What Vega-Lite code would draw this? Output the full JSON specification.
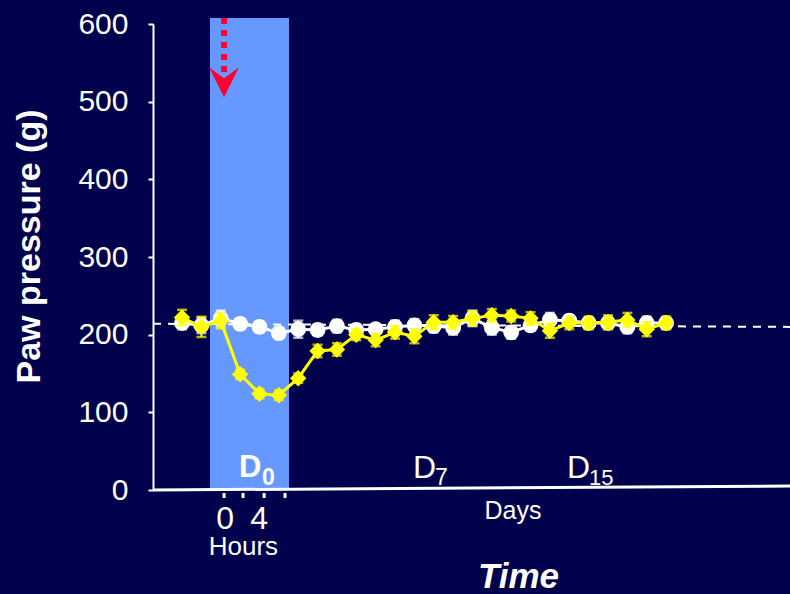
{
  "$schema": "https://vega.github.io/schema/vega-lite/v6.json",
  "width": 637,
  "height": 466,
  "autosize": {"type": "none"},
  "padding": {"left": 153, "top": 24, "right": 0, "bottom": 104},
  "background": "#00004C",
  "config": {
    "view": {"stroke": null},
    "font": "Liberation Sans",
    "axisY": {
      "titleFont": "Liberation Sans",
      "titleFontSize": 34,
      "titleFontWeight": "bold",
      "titleColor": "white",
      "titleAngle": 270,
      "titleBaseline": "bottom",
      "titleAlign": "center",
      "titleX": -107,
      "titleY": 222,
      "labelFont": "Liberation Sans",
      "labelFontSize": 30,
      "labelColor": "white",
      "labelPadding": 20,
      "labelFlush": false,
      "labelOverlap": false,
      "tickSize": 5,
      "tickWidth": 2,
      "tickColor": "white",
      "domainColor": "white",
      "domainWidth": 2,
      "grid": false
    }
  },
  "datasets": {
    "pressure": [
      {"t": 0, "g": "control", "mean": 215, "sem": 8},
      {"t": 1, "g": "control", "mean": 212, "sem": 10},
      {"t": 2, "g": "control", "mean": 221, "sem": 10},
      {"t": 3, "g": "control", "mean": 214, "sem": 7},
      {"t": 4, "g": "control", "mean": 210, "sem": 7},
      {"t": 5, "g": "control", "mean": 202, "sem": 7},
      {"t": 6, "g": "control", "mean": 207, "sem": 11},
      {"t": 7, "g": "control", "mean": 206, "sem": 7},
      {"t": 8, "g": "control", "mean": 211, "sem": 8},
      {"t": 9, "g": "control", "mean": 206, "sem": 7},
      {"t": 10, "g": "control", "mean": 207, "sem": 6},
      {"t": 11, "g": "control", "mean": 210, "sem": 8},
      {"t": 12, "g": "control", "mean": 212, "sem": 8},
      {"t": 13, "g": "control", "mean": 211, "sem": 8},
      {"t": 14, "g": "control", "mean": 209, "sem": 9},
      {"t": 15, "g": "control", "mean": 221, "sem": 10},
      {"t": 16, "g": "control", "mean": 209, "sem": 9},
      {"t": 17, "g": "control", "mean": 203, "sem": 8},
      {"t": 18, "g": "control", "mean": 212, "sem": 7},
      {"t": 19, "g": "control", "mean": 219, "sem": 9},
      {"t": 20, "g": "control", "mean": 218, "sem": 7},
      {"t": 21, "g": "control", "mean": 215, "sem": 7},
      {"t": 22, "g": "control", "mean": 215, "sem": 7},
      {"t": 23, "g": "control", "mean": 210, "sem": 8},
      {"t": 24, "g": "control", "mean": 215, "sem": 8},
      {"t": 25, "g": "control", "mean": 215, "sem": 7},
      {"t": 0, "g": "treated", "mean": 222, "sem": 10},
      {"t": 1, "g": "treated", "mean": 210, "sem": 13},
      {"t": 2, "g": "treated", "mean": 218, "sem": 10},
      {"t": 3, "g": "treated", "mean": 149, "sem": 6},
      {"t": 4, "g": "treated", "mean": 124, "sem": 6},
      {"t": 5, "g": "treated", "mean": 122, "sem": 6},
      {"t": 6, "g": "treated", "mean": 144, "sem": 6},
      {"t": 7, "g": "treated", "mean": 179, "sem": 8},
      {"t": 8, "g": "treated", "mean": 181, "sem": 8},
      {"t": 9, "g": "treated", "mean": 200, "sem": 7},
      {"t": 10, "g": "treated", "mean": 193, "sem": 8},
      {"t": 11, "g": "treated", "mean": 203, "sem": 8},
      {"t": 12, "g": "treated", "mean": 198, "sem": 9},
      {"t": 13, "g": "treated", "mean": 216, "sem": 9},
      {"t": 14, "g": "treated", "mean": 216, "sem": 8},
      {"t": 15, "g": "treated", "mean": 221, "sem": 9},
      {"t": 16, "g": "treated", "mean": 225, "sem": 8},
      {"t": 17, "g": "treated", "mean": 224, "sem": 7},
      {"t": 18, "g": "treated", "mean": 221, "sem": 8},
      {"t": 19, "g": "treated", "mean": 205, "sem": 9},
      {"t": 20, "g": "treated", "mean": 215, "sem": 8},
      {"t": 21, "g": "treated", "mean": 215, "sem": 8},
      {"t": 22, "g": "treated", "mean": 216, "sem": 9},
      {"t": 23, "g": "treated", "mean": 219, "sem": 9},
      {"t": 24, "g": "treated", "mean": 207, "sem": 9},
      {"t": 25, "g": "treated", "mean": 215, "sem": 8}
    ],
    "hourTicks": [
      {"pos": 2.17}, {"pos": 3.15}, {"pos": 4.24}, {"pos": 5.32}
    ],
    "one": [{}]
  },
  "layer": [
    {
      "data": {"name": "one"},
      "mark": {"type": "rect", "color": "#6699FF"},
      "encoding": {
        "x": {"datum": 1.444, "type": "quantitative", "scale": {"domain": [-1.5, 31.4], "nice": false, "zero": false}, "axis": null},
        "x2": {"datum": 5.524},
        "y": {"datum": 0, "type": "quantitative", "scale": {"domain": [0, 600], "nice": false, "zero": false}, "axis": {"values": [0, 100, 200, 300, 400, 500, 600], "title": "Paw pressure (g)"}},
        "y2": {"datum": 607.7}
      }
    },
    {
      "data": {"name": "one"},
      "mark": {"type": "rule", "color": "#FF0033", "strokeWidth": 6, "strokeDash": [6, 6], "strokeCap": "butt"},
      "encoding": {
        "x": {"datum": 2.17, "type": "quantitative", "scale": {"domain": [-1.5, 31.4], "nice": false, "zero": false}, "axis": null},
        "y": {"datum": 607.7, "type": "quantitative", "scale": {"domain": [0, 600], "nice": false, "zero": false}, "axis": {"values": [0, 100, 200, 300, 400, 500, 600], "title": "Paw pressure (g)"}},
        "y2": {"datum": 537}
      }
    },
    {
      "data": {"name": "one"},
      "mark": {"type": "point", "filled": true, "opacity": 1, "color": "#FF0033", "size": 900, "shape": "M-1,-1L0,-0.27L1,-1L0,1Z"},
      "encoding": {
        "x": {"datum": 2.17, "type": "quantitative", "scale": {"domain": [-1.5, 31.4], "nice": false, "zero": false}, "axis": null},
        "y": {"datum": 525, "type": "quantitative", "scale": {"domain": [0, 600], "nice": false, "zero": false}, "axis": {"values": [0, 100, 200, 300, 400, 500, 600], "title": "Paw pressure (g)"}}
      }
    },
    {
      "data": {"name": "one"},
      "mark": {"type": "rule", "color": "white", "strokeWidth": 2, "strokeDash": [8, 7]},
      "encoding": {
        "x": {"datum": -1.5, "type": "quantitative", "scale": {"domain": [-1.5, 31.4], "nice": false, "zero": false}, "axis": null},
        "x2": {"datum": 31.4},
        "y": {"datum": 214, "type": "quantitative", "scale": {"domain": [0, 600], "nice": false, "zero": false}, "axis": {"values": [0, 100, 200, 300, 400, 500, 600], "title": "Paw pressure (g)"}},
        "y2": {"datum": 210}
      }
    },
    {
      "data": {"name": "one"},
      "mark": {"type": "rule", "color": "white", "strokeWidth": 3},
      "encoding": {
        "x": {"datum": -1.5, "type": "quantitative", "scale": {"domain": [-1.5, 31.4], "nice": false, "zero": false}, "axis": null},
        "x2": {"datum": 31.4},
        "y": {"datum": 0, "type": "quantitative", "scale": {"domain": [0, 600], "nice": false, "zero": false}, "axis": {"values": [0, 100, 200, 300, 400, 500, 600], "title": "Paw pressure (g)"}},
        "y2": {"datum": 5}
      }
    },
    {
      "data": {"name": "hourTicks"},
      "mark": {"type": "rule", "color": "white", "strokeWidth": 3},
      "encoding": {
        "x": {"field": "pos", "type": "quantitative", "scale": {"domain": [-1.5, 31.4], "nice": false, "zero": false}, "axis": null},
        "y": {"datum": -3.9, "type": "quantitative", "scale": {"domain": [0, 600], "nice": false, "zero": false}, "axis": {"values": [0, 100, 200, 300, 400, 500, 600], "title": "Paw pressure (g)"}},
        "y2": {"datum": -10.3}
      }
    },
    {
      "data": {"name": "pressure"},
      "transform": [{"filter": "datum.g === 'control'"}],
      "mark": {"type": "errorbar", "color": "white", "rule": {"strokeWidth": 2}, "ticks": {"size": 10, "thickness": 2.5}},
      "encoding": {
        "x": {"field": "t", "type": "quantitative", "scale": {"domain": [-1.5, 31.4], "nice": false, "zero": false}, "axis": null},
        "y": {"field": "mean", "type": "quantitative", "scale": {"domain": [0, 600], "nice": false, "zero": false}, "axis": {"values": [0, 100, 200, 300, 400, 500, 600], "title": "Paw pressure (g)"}},
        "yError": {"field": "sem"}
      }
    },
    {
      "data": {"name": "pressure"},
      "transform": [{"filter": "datum.g === 'control'"}],
      "mark": {"type": "line", "color": "white", "strokeWidth": 3},
      "encoding": {
        "x": {"field": "t", "type": "quantitative", "scale": {"domain": [-1.5, 31.4], "nice": false, "zero": false}, "axis": null},
        "y": {"field": "mean", "type": "quantitative", "scale": {"domain": [0, 600], "nice": false, "zero": false}, "axis": {"values": [0, 100, 200, 300, 400, 500, 600], "title": "Paw pressure (g)"}}
      }
    },
    {
      "data": {"name": "pressure"},
      "transform": [{"filter": "datum.g === 'control'"}],
      "mark": {"type": "point", "shape": "circle", "filled": true, "opacity": 1, "color": "white", "size": 250},
      "encoding": {
        "x": {"field": "t", "type": "quantitative", "scale": {"domain": [-1.5, 31.4], "nice": false, "zero": false}, "axis": null},
        "y": {"field": "mean", "type": "quantitative", "scale": {"domain": [0, 600], "nice": false, "zero": false}, "axis": {"values": [0, 100, 200, 300, 400, 500, 600], "title": "Paw pressure (g)"}}
      }
    },
    {
      "data": {"name": "pressure"},
      "transform": [{"filter": "datum.g === 'treated'"}],
      "mark": {"type": "errorbar", "color": "#FFFF00", "rule": {"strokeWidth": 2}, "ticks": {"size": 10, "thickness": 2.5}},
      "encoding": {
        "x": {"field": "t", "type": "quantitative", "scale": {"domain": [-1.5, 31.4], "nice": false, "zero": false}, "axis": null},
        "y": {"field": "mean", "type": "quantitative", "scale": {"domain": [0, 600], "nice": false, "zero": false}, "axis": {"values": [0, 100, 200, 300, 400, 500, 600], "title": "Paw pressure (g)"}},
        "yError": {"field": "sem"}
      }
    },
    {
      "data": {"name": "pressure"},
      "transform": [{"filter": "datum.g === 'treated'"}],
      "mark": {"type": "line", "color": "#FFFF00", "strokeWidth": 3},
      "encoding": {
        "x": {"field": "t", "type": "quantitative", "scale": {"domain": [-1.5, 31.4], "nice": false, "zero": false}, "axis": null},
        "y": {"field": "mean", "type": "quantitative", "scale": {"domain": [0, 600], "nice": false, "zero": false}, "axis": {"values": [0, 100, 200, 300, 400, 500, 600], "title": "Paw pressure (g)"}}
      }
    },
    {
      "data": {"name": "pressure"},
      "transform": [{"filter": "datum.g === 'treated'"}],
      "mark": {"type": "point", "shape": "diamond", "filled": true, "opacity": 1, "color": "#FFFF00", "size": 270},
      "encoding": {
        "x": {"field": "t", "type": "quantitative", "scale": {"domain": [-1.5, 31.4], "nice": false, "zero": false}, "axis": null},
        "y": {"field": "mean", "type": "quantitative", "scale": {"domain": [0, 600], "nice": false, "zero": false}, "axis": {"values": [0, 100, 200, 300, 400, 500, 600], "title": "Paw pressure (g)"}}
      }
    },
    {
      "data": {"name": "one"},
      "mark": {"type": "text", "text": "D", "color": "white", "fontSize": 31, "fontWeight": "bold", "align": "left", "baseline": "alphabetic"},
      "encoding": {
        "x": {"datum": 2.94, "type": "quantitative", "scale": {"domain": [-1.5, 31.4], "nice": false, "zero": false}, "axis": null},
        "y": {"datum": 16.7, "type": "quantitative", "scale": {"domain": [0, 600], "nice": false, "zero": false}, "axis": {"values": [0, 100, 200, 300, 400, 500, 600], "title": "Paw pressure (g)"}}
      }
    },
    {
      "data": {"name": "one"},
      "mark": {"type": "text", "text": "0", "color": "white", "fontSize": 23, "fontWeight": "bold", "align": "left", "baseline": "alphabetic"},
      "encoding": {
        "x": {"datum": 4.13, "type": "quantitative", "scale": {"domain": [-1.5, 31.4], "nice": false, "zero": false}, "axis": null},
        "y": {"datum": 6.4, "type": "quantitative", "scale": {"domain": [0, 600], "nice": false, "zero": false}, "axis": {"values": [0, 100, 200, 300, 400, 500, 600], "title": "Paw pressure (g)"}}
      }
    },
    {
      "data": {"name": "one"},
      "mark": {"type": "text", "text": "D", "color": "white", "fontSize": 32, "align": "left", "baseline": "alphabetic"},
      "encoding": {
        "x": {"datum": 11.93, "type": "quantitative", "scale": {"domain": [-1.5, 31.4], "nice": false, "zero": false}, "axis": null},
        "y": {"datum": 15.5, "type": "quantitative", "scale": {"domain": [0, 600], "nice": false, "zero": false}, "axis": {"values": [0, 100, 200, 300, 400, 500, 600], "title": "Paw pressure (g)"}}
      }
    },
    {
      "data": {"name": "one"},
      "mark": {"type": "text", "text": "7", "color": "white", "fontSize": 23, "align": "left", "baseline": "alphabetic"},
      "encoding": {
        "x": {"datum": 13.06, "type": "quantitative", "scale": {"domain": [-1.5, 31.4], "nice": false, "zero": false}, "axis": null},
        "y": {"datum": 6.4, "type": "quantitative", "scale": {"domain": [0, 600], "nice": false, "zero": false}, "axis": {"values": [0, 100, 200, 300, 400, 500, 600], "title": "Paw pressure (g)"}}
      }
    },
    {
      "data": {"name": "one"},
      "mark": {"type": "text", "text": "D", "color": "white", "fontSize": 32, "align": "left", "baseline": "alphabetic"},
      "encoding": {
        "x": {"datum": 19.88, "type": "quantitative", "scale": {"domain": [-1.5, 31.4], "nice": false, "zero": false}, "axis": null},
        "y": {"datum": 15.5, "type": "quantitative", "scale": {"domain": [0, 600], "nice": false, "zero": false}, "axis": {"values": [0, 100, 200, 300, 400, 500, 600], "title": "Paw pressure (g)"}}
      }
    },
    {
      "data": {"name": "one"},
      "mark": {"type": "text", "text": "15", "color": "white", "fontSize": 22, "align": "left", "baseline": "alphabetic"},
      "encoding": {
        "x": {"datum": 21.02, "type": "quantitative", "scale": {"domain": [-1.5, 31.4], "nice": false, "zero": false}, "axis": null},
        "y": {"datum": 6.4, "type": "quantitative", "scale": {"domain": [0, 600], "nice": false, "zero": false}, "axis": {"values": [0, 100, 200, 300, 400, 500, 600], "title": "Paw pressure (g)"}}
      }
    },
    {
      "data": {"name": "one"},
      "mark": {"type": "text", "text": "Days", "color": "white", "fontSize": 25, "align": "center", "baseline": "alphabetic"},
      "encoding": {
        "x": {"datum": 17.09, "type": "quantitative", "scale": {"domain": [-1.5, 31.4], "nice": false, "zero": false}, "axis": null},
        "y": {"datum": -37.3, "type": "quantitative", "scale": {"domain": [0, 600], "nice": false, "zero": false}, "axis": {"values": [0, 100, 200, 300, 400, 500, 600], "title": "Paw pressure (g)"}}
      }
    },
    {
      "data": {"name": "one"},
      "mark": {"type": "text", "text": "0", "color": "white", "fontSize": 32, "align": "center", "baseline": "alphabetic"},
      "encoding": {
        "x": {"datum": 2.22, "type": "quantitative", "scale": {"domain": [-1.5, 31.4], "nice": false, "zero": false}, "axis": null},
        "y": {"datum": -50.2, "type": "quantitative", "scale": {"domain": [0, 600], "nice": false, "zero": false}, "axis": {"values": [0, 100, 200, 300, 400, 500, 600], "title": "Paw pressure (g)"}}
      }
    },
    {
      "data": {"name": "one"},
      "mark": {"type": "text", "text": "4", "color": "white", "fontSize": 32, "align": "center", "baseline": "alphabetic"},
      "encoding": {
        "x": {"datum": 3.98, "type": "quantitative", "scale": {"domain": [-1.5, 31.4], "nice": false, "zero": false}, "axis": null},
        "y": {"datum": -50.2, "type": "quantitative", "scale": {"domain": [0, 600], "nice": false, "zero": false}, "axis": {"values": [0, 100, 200, 300, 400, 500, 600], "title": "Paw pressure (g)"}}
      }
    },
    {
      "data": {"name": "one"},
      "mark": {"type": "text", "text": "Hours", "color": "white", "fontSize": 26, "align": "center", "baseline": "alphabetic"},
      "encoding": {
        "x": {"datum": 3.17, "type": "quantitative", "scale": {"domain": [-1.5, 31.4], "nice": false, "zero": false}, "axis": null},
        "y": {"datum": -83.7, "type": "quantitative", "scale": {"domain": [0, 600], "nice": false, "zero": false}, "axis": {"values": [0, 100, 200, 300, 400, 500, 600], "title": "Paw pressure (g)"}}
      }
    },
    {
      "data": {"name": "one"},
      "mark": {"type": "text", "text": "Time", "color": "white", "fontSize": 35, "fontWeight": "bold", "fontStyle": "italic", "align": "center", "baseline": "alphabetic"},
      "encoding": {
        "x": {"datum": 17.38, "type": "quantitative", "scale": {"domain": [-1.5, 31.4], "nice": false, "zero": false}, "axis": null},
        "y": {"datum": -126.2, "type": "quantitative", "scale": {"domain": [0, 600], "nice": false, "zero": false}, "axis": {"values": [0, 100, 200, 300, 400, 500, 600], "title": "Paw pressure (g)"}}
      }
    }
  ]
}
